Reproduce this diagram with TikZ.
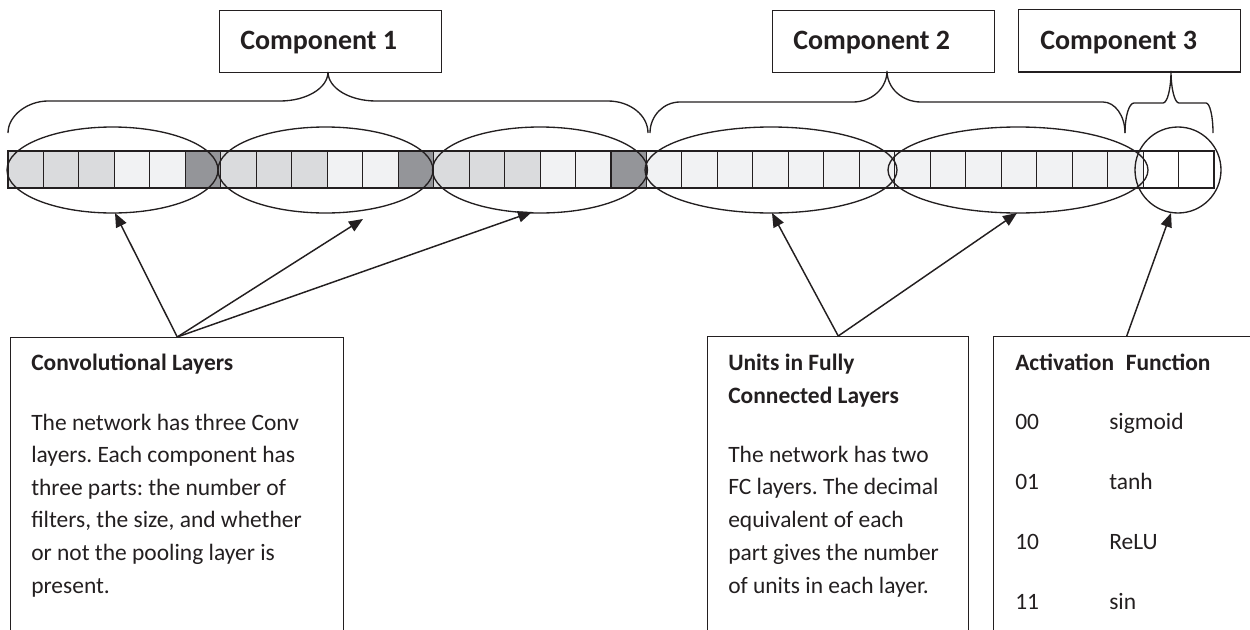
\documentclass[tikz,border=0pt]{standalone}
\usepackage{fontspec}
\setmainfont{Carlito}
\usetikzlibrary{arrows.meta,shapes.geometric}
\definecolor{ink}{HTML}{231F20}
\definecolor{cg}{HTML}{DADBDD}
\definecolor{cl}{HTML}{F1F2F3}
\definecolor{cd}{HTML}{949599}
\frenchspacing
\begin{document}
\begin{tikzpicture}[x=0.75pt,y=-0.75pt,
  box/.style={draw=ink,line width=1.1pt,inner sep=0pt,anchor=north west},
  lbl/.style={anchor=base west,inner sep=0pt,text=ink,font=\fontsize{21}{25}\selectfont\bfseries},
  txt/.style={anchor=base west,inner sep=0pt,text=ink,font=\fontsize{17.6}{20}\selectfont},
  hd/.style={txt,font=\fontsize{17.6}{20}\selectfont\bfseries},
  cell/.style={draw=ink,line width=0.8pt},
  ell/.style={draw=ink,line width=1pt,ellipse,inner sep=0pt},
  brace/.style={draw=ink,line width=1pt},
  arr/.style={draw=ink,line width=1.1pt,-{Triangle[length=10.5pt,width=8.5pt]}}
]
\useasboundingbox (0,0) rectangle (1250,629);

% strip of cells
\foreach \c [count=\i from 0] in {cg,cg,cg,cl,cl,cd,cg,cg,cg,cl,cl,cd,cg,cg,cg,cl,cl,cd,cl,cl,cl,cl,cl,cl,cl,cl,cl,cl,cl,cl,cl,cl,white,white}
  \draw[cell,fill=\c] ({8+\i*35.47},151) rectangle ++(35.47,37);

% ellipses
\node[ell,minimum width=158.25pt,minimum height=64.5pt] (e1) at (112.5,170) {};
\node[ell,minimum width=161.25pt,minimum height=64.5pt] (e2) at (325.5,170) {};
\node[ell,minimum width=161.25pt,minimum height=64.5pt] (e3) at (540,170) {};
\node[ell,minimum width=189pt,minimum height=64.5pt] (e4) at (771,170) {};
\node[ell,minimum width=195pt,minimum height=64.5pt] (e5) at (1018,170) {};
\node[draw=ink,line width=1pt,circle,inner sep=0pt,minimum size=64.5pt] (c6) at (1178,170) {};

% component boxes
\node[box,minimum width=166.5pt,minimum height=46.5pt] (comp1) at (219,10) {};
\node[box,minimum width=166.5pt,minimum height=46.5pt] (comp2) at (772,9.5) {};
\node[box,minimum width=166.5pt,minimum height=47pt] (comp3) at (1018,8.5) {};
\node[lbl] (comp1t) at (240,49) {Component 1};
\node[lbl] (comp2t) at (793,49) {Component 2};
\node[lbl] (comp3t) at (1040,49) {Component 3};

% braces
\path[brace] (8,133) .. controls (8,115.3) and (27.9,101) .. (48,101) -- (280,101)
  .. controls (306.5,101) and (328,88) .. (328,72)
  .. controls (328,88) and (349.5,101) .. (376,101) -- (608,101)
  .. controls (630.1,101) and (648,115.3) .. (648,133);
\path[brace] (650,133) .. controls (650,115.9) and (663.4,102) .. (680,102) -- (853,102)
  .. controls (871.8,102) and (887,88.1) .. (887,71)
  .. controls (887,88.1) and (902.2,102) .. (921,102) -- (1103,102)
  .. controls (1115.1,102) and (1125,115.9) .. (1125,133);
\path[brace] (1125,133) .. controls (1125,116.4) and (1129,103) .. (1134,103) -- (1163,103)
  .. controls (1167.4,103) and (1171,88.6) .. (1171,71)
  .. controls (1171,88.6) and (1174.6,103) .. (1179,103) -- (1206,103)
  .. controls (1209.9,103) and (1213,116.4) .. (1213,133);

% bottom boxes
\node[box,minimum width=249.75pt,minimum height=236pt] (conv) at (10,337) {};
\node[box,minimum width=195.75pt,minimum height=236pt] (fc) at (707,336) {};
\node[box,minimum width=199.5pt,minimum height=236pt] (act) at (993,336) {};

% arrow targets
\coordinate (t1) at (115,213);
\coordinate (t2) at (363,219);
\coordinate (t3) at (532,212);
\coordinate (t4) at (772,213);
\coordinate (t5) at (1017,213);
\coordinate (t6) at (1171,213);
\draw[arr] (conv.north) -- (t1);
\draw[arr] (conv.north) -- (t2);
\draw[arr] (conv.north) -- (t3);
\draw[arr] (fc.north) -- (t4);
\draw[arr] (fc.north) -- (t5);
\draw[arr] (act.north) -- (t6);

% conv text
\node[hd] (convh) at (31,370) {Convolutional Layers};
\node[txt] (cv1) at (31,430) {The network has three Conv};
\node[txt] (cv2) at (31,462.6) {layers. Each component has};
\node[txt] (cv3) at (31,495.2) {three parts: the number of};
\node[txt] (cv4) at (31,527.8) {filters, the size, and whether};
\node[txt] (cv5) at (31,560.4) {or not the pooling layer is};
\node[txt] (cv6) at (31,593) {present.};

% fc text
\node[hd] (fch1) at (728,370) {Units in Fully};
\node[hd] (fch2) at (728,403) {Connected Layers};
\node[txt] (fc1) at (728,462) {The network has two};
\node[txt] (fc2) at (728,494.75) {FC layers. The decimal};
\node[txt] (fc3) at (728,527.5) {equivalent of each};
\node[txt] (fc4) at (728,560.25) {part gives the number};
\node[txt] (fc5) at (728,593) {of units in each layer.};

% activation text
\node[hd] (acth) at (1015,370) {Activation\hspace{0.5em}Function};
\node[txt] (a0) at (1015,429) {00};
\node[txt] (a1) at (1015,489) {01};
\node[txt] (a2) at (1015,549) {10};
\node[txt] (a3) at (1015,609) {11};
\node[txt] (f0) at (1109,429) {sigmoid};
\node[txt] (f1) at (1109,489) {tanh};
\node[txt] (f2) at (1109,549) {ReLU};
\node[txt] (f3) at (1109,609) {sin};
\end{tikzpicture}
\end{document}
